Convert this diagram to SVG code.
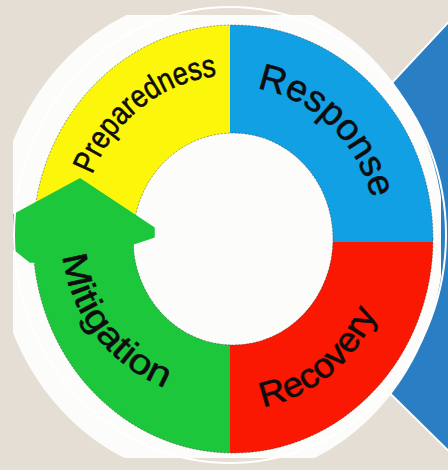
<svg xmlns="http://www.w3.org/2000/svg" width="448" height="470" viewBox="0 0 448 470">
<defs>
<style>
.lbl{font-family:"Liberation Sans",Arial,sans-serif;fill:#0d0d0d;stroke:#0d0d0d;stroke-width:0.6;}
.edge{fill:none;stroke:#3a3a3a;stroke-width:0.8;stroke-dasharray:2 1.5;opacity:0.6;}
</style>
<clipPath id="picR"><rect x="13" y="15" width="428" height="443"/></clipPath>
<clipPath id="picE"><ellipse cx="219.5" cy="237" rx="224.5" ry="244"/></clipPath>
<clipPath id="ring"><path clip-rule="evenodd" d="M33,239 a200,214 0 1,0 400,0 a200,214 0 1,0 -400,0 Z M133,239 a100,106 0 1,0 200,0 a100,106 0 1,0 -200,0 Z"/></clipPath>
<path id="pPrep" d="M92.2,174.9 A153,164 0 0 1 217,75.9"/>
<path id="pResp" d="M257,88.3 A144,154 0 0 1 371.4,196.6"/>
<path id="pReco" d="M263,406.9 A158,169 0 0 0 377,313.1"/>
<path id="pMiti" d="M62.9,255.9 A170,162 0 0 0 164.9,388"/>
</defs>
<rect width="448" height="470" fill="#e4ded5"/>
<g id="callout">
<polygon points="240,246 470,-1 470,472" fill="#2a7fc4" stroke="#ffffff" stroke-width="2"/>
</g>
<g clip-path="url(#picR)">
<g clip-path="url(#picE)">
<rect x="0" y="0" width="448" height="470" fill="#fcfcfb"/>
<g id="node-preparedness">
<rect x="0" y="0" width="230" height="242" fill="#fcf70a" clip-path="url(#ring)"/>
</g>
<g id="node-response">
<rect x="230" y="0" width="230" height="242" fill="#12a0e4" clip-path="url(#ring)"/>
</g>
<g id="node-recovery">
<rect x="230" y="242" width="230" height="240" fill="#fa1802" clip-path="url(#ring)"/>
</g>
<g id="node-mitigation">
<rect x="0" y="242" width="230" height="240" fill="#1dc73c" clip-path="url(#ring)"/>
</g>
<ellipse class="edge" cx="233" cy="239" rx="200" ry="214"/>
<ellipse class="edge" cx="233" cy="239" rx="100" ry="106"/>
<g id="connectors">
<polygon points="80,179 154,228 154,237 133,244 133,262 30,262 0,238 0,222" fill="#1dc73c" stroke="#1dc73c" stroke-width="1.5" stroke-linejoin="round"/>
</g>
<g id="labels">
<text class="lbl" font-size="32"><textPath href="#pPrep" textLength="167" lengthAdjust="spacingAndGlyphs">Preparedness</textPath></text>
<text class="lbl" font-size="37"><textPath href="#pResp" textLength="168" lengthAdjust="spacingAndGlyphs">Response</textPath></text>
<text class="lbl" font-size="35"><textPath href="#pReco" textLength="153" lengthAdjust="spacingAndGlyphs">Recovery</textPath></text>
<text class="lbl" font-size="35"><textPath href="#pMiti" textLength="175" lengthAdjust="spacingAndGlyphs">Mitigation</textPath></text>
</g>
</g>
</g>
<ellipse cx="230" cy="235" rx="216" ry="228" fill="none" stroke="#ffffff" stroke-width="2"/>
</svg>
